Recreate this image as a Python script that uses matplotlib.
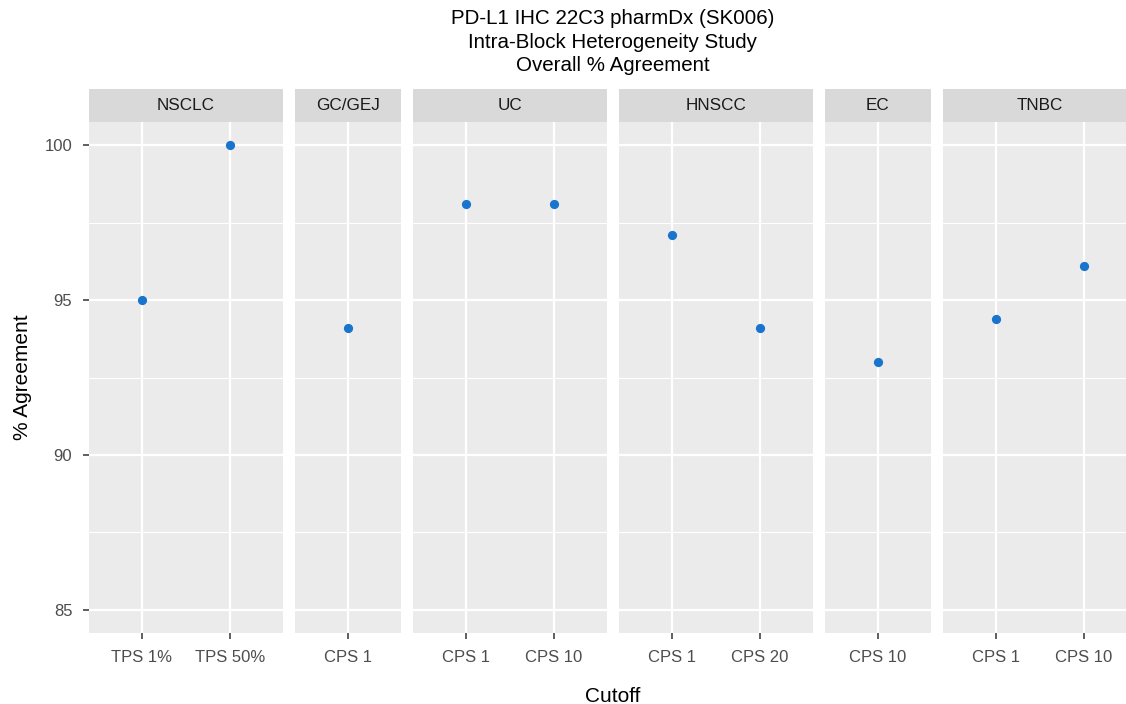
import numpy as np
import matplotlib
matplotlib.use("Agg")
import matplotlib.pyplot as plt

plt.rcParams['font.family'] = ['Liberation Sans', 'DejaVu Sans']

# data
cancers = ['NSCLC', 'GC/GEJ', 'UC', 'HNSCC', 'EC', 'TNBC']
cutoffs = [['TPS 1%', 'TPS 50%'], ['CPS 1'], ['CPS 1', 'CPS 10'],
           ['CPS 1', 'CPS 20'], ['CPS 10'], ['CPS 1', 'CPS 10']]
agreement = [[95.0, 100.0], [94.1], [98.1, 98.1],
             [97.1, 94.1], [93.0], [94.4, 96.1]]

title = 'PD-L1 IHC 22C3 pharmDx (SK006)\nIntra-Block Heterogeneity Study\nOverall % Agreement'

W, H = 1126, 704
fig = plt.figure(figsize=(W / 100, H / 100), dpi=100)

# layout in pixels (facets with free x space, like ggplot)
left = 89
gap = 12
unit = 88.2           # px per discrete x unit
panel_top = 122
panel_bot = 633
strip_top = 89

panel_bg = '#EBEBEB'
strip_bg = '#D9D9D9'
pt_col = '#1874CD'

x0 = left
axes = []
for i, (name, cats, vals) in enumerate(zip(cancers, cutoffs, agreement)):
    n = len(cats)
    w = (n - 1 + 1.2) * unit
    ax = fig.add_axes([x0 / W, (H - panel_bot) / H, w / W, (panel_bot - panel_top) / H])
    ax.set_facecolor(panel_bg)
    for s in ax.spines.values():
        s.set_visible(False)
    xs = np.arange(n)
    ax.scatter(xs, vals, s=44, color=pt_col, zorder=3, linewidths=0)
    ax.set_xlim(-0.6, n - 0.4)
    ax.set_ylim(84.25, 100.75)
    ax.set_xticks(xs)
    ax.set_xticklabels(cats)
    ax.set_yticks([85, 90, 95, 100])
    ax.set_yticks([87.5, 92.5, 97.5], minor=True)
    ax.set_axisbelow(True)
    ax.grid(which='major', color='white', lw=1.6)
    ax.grid(which='minor', axis='y', color='white', lw=0.8)
    ax.tick_params(axis='both', which='major', length=4, width=1.1, color='#333333',
                   labelcolor='#4D4D4D', labelsize=12, pad=8)
    ax.tick_params(axis='y', which='minor', length=0)
    if i > 0:
        ax.tick_params(axis='y', left=False, labelleft=False)

    # strip
    sax = fig.add_axes([x0 / W, (H - panel_top) / H, w / W, (panel_top - strip_top) / H])
    sax.set_facecolor(strip_bg)
    sax.set_xticks([])
    sax.set_yticks([])
    for s in sax.spines.values():
        s.set_visible(False)
    sax.text(0.5, 0.5, name, ha='center', va='center', fontsize=12.3,
             color='#1A1A1A', transform=sax.transAxes)

    axes.append(ax)
    x0 += w + gap

mid = (left + x0 - gap) / 2 / W

fig.text(mid, 1 - 9 / H, title, ha='center', va='top', fontsize=14.8,
         linespacing=1.3, color='black')
fig.text(mid, 2 / H, 'Cutoff', ha='center', va='baseline', fontsize=15, color='black')
fig.text(22 / W, 1 - (panel_top + panel_bot) / 2 / H, '% Agreement', rotation=90,
         ha='center', va='center', fontsize=15, color='black')

fig.savefig('out.png', dpi=100, facecolor='white')
